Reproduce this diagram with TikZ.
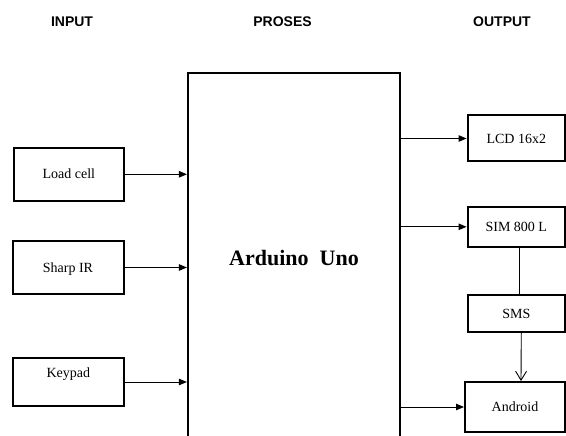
\documentclass[tikz,border=0pt]{standalone}
\usepackage{fontspec}
\setmainfont{Liberation Serif}
\newfontfamily\hdrfont{Liberation Sans}
\usetikzlibrary{arrows.meta}
\tikzset{
  hdr/.style={font=\hdrfont\bfseries\fontsize{14}{16}\selectfont, inner sep=0pt, text height=10pt, text depth=0pt},
  blk/.style={draw, line width=2pt, font=\fontsize{14}{16}\selectfont, inner sep=0pt, text height=9.3pt, text depth=0pt, anchor=center},
  main/.style={draw, line width=2.2pt, font=\bfseries\fontsize{22}{26}\selectfont, inner sep=0pt, text height=15pt, text depth=0pt},
  arr/.style={line width=0.9pt, -{Triangle[length=8pt,width=6.5pt]}},
  plain/.style={line width=0.9pt},
  barb/.style={line width=0.9pt, -{Straight Barb[length=9pt,width=11pt,line width=0.9pt]}}
}
\begin{document}
\begin{tikzpicture}[x=1pt,y=-1pt]
\clip (0,0) rectangle (566,436);
\fill[white] (0,0) rectangle (566,436);
% headers
\node[hdr] (hin) at (72,21.5) {INPUT};
\node[hdr] (hpr) at (282.5,21.5) {PROSES};
\node[hdr] (hout) at (502,21.5) {OUTPUT};
% main block
\node[main, minimum width=212pt, minimum height=370pt] (ard) at (294,258) {Arduino\ \ Uno};
% inputs
\node[blk, minimum width=110.5pt, minimum height=53.5pt] (load) at (68.8,174.3) {Load cell};
\node[blk, minimum width=111pt, minimum height=53pt] (sharp) at (68,267.5) {Sharp IR};
\node[blk, minimum width=111.5pt, minimum height=48pt] (key) at (68.3,382) {\raisebox{9pt}{Keypad}};
% outputs
\node[blk, minimum width=97.5pt, minimum height=46pt] (lcd) at (516.3,138.5) {LCD 16x2};
\node[blk, minimum width=97.5pt, minimum height=39.5pt] (sim) at (516.3,226.8) {SIM 800 L};
\node[blk, minimum width=97.5pt, minimum height=37pt] (sms) at (516.3,313.5) {SMS};
\node[blk, minimum width=100pt, minimum height=50pt] (andr) at (515,407) {Android};
% connectors
\draw[arr] (load.east) -- (load.east -| ard.west);
\draw[arr] (sharp.east) -- (sharp.east -| ard.west);
\draw[arr] (key.east) -- (key.east -| ard.west);
\draw[arr] (ard.east |- lcd.west) -- (lcd.west);
\draw[arr] (ard.east |- sim.west) -- (sim.west);
\draw[arr] (ard.east |- andr.west) -- (andr.west);
\draw[plain] ([xshift=3pt]sim.south) -- ([xshift=3pt]sms.north);
\draw[barb] ([xshift=5pt]sms.south) -- ([xshift=6pt]andr.north);
\end{tikzpicture}
\end{document}
